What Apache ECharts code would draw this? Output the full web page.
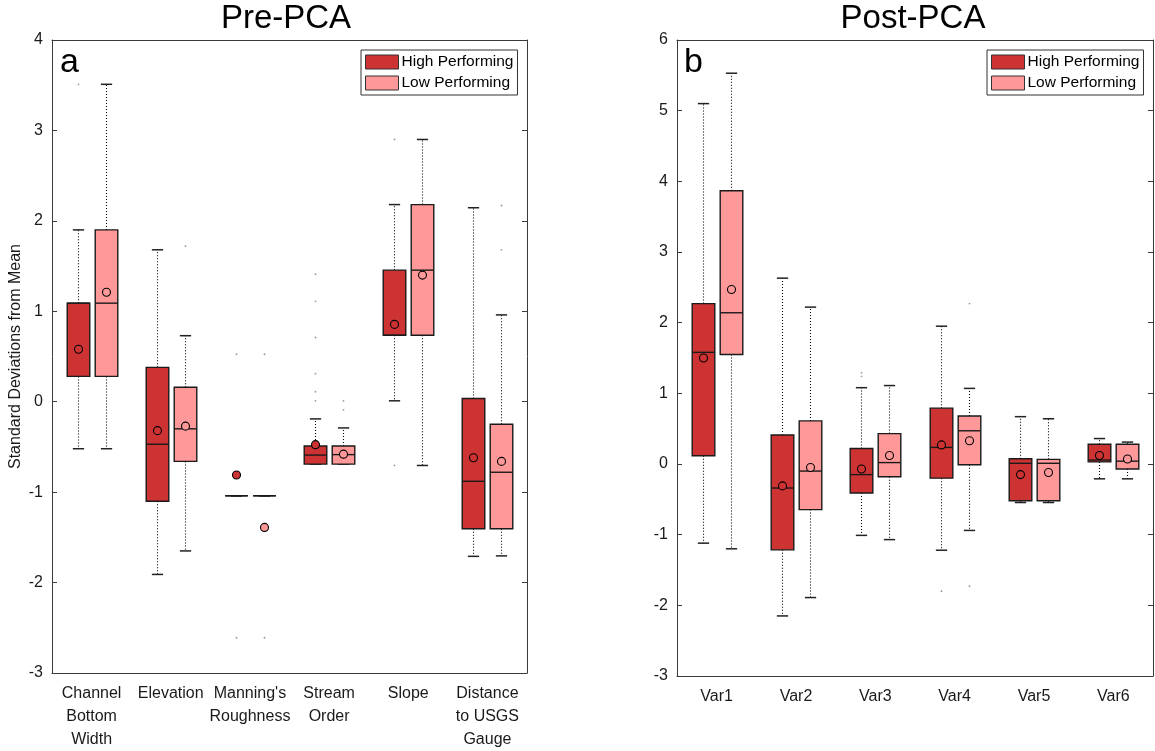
<!DOCTYPE html>
<html>
<head>
<meta charset="utf-8">
<script src="https://cdn.jsdelivr.net/npm/echarts@6/dist/echarts.min.js"></script>
<style>
  html, body { margin: 0; padding: 0; background: #fff; }
  #chart { width: 1155px; height: 751px; }
</style>
</head>
<body>
<div id="chart"></div>
<script>
// ---------- DATA ----------
// each row: [lower whisker, Q1, median, Q3, upper whisker]
const preCategories = ['Channel\nBottom\nWidth', 'Elevation', "Manning's\nRoughness", 'Stream\nOrder', 'Slope', 'Distance\nto USGS\nGauge'];
const preHigh = [
  [-0.52, 0.28, 1.09, 1.09, 1.90],
  [-1.91, -1.10, -0.47, 0.38, 1.68],
  [-1.04, -1.04, -1.04, -1.04, -1.04],
  [-0.69, -0.69, -0.59, -0.49, -0.19],
  [0.01, 0.735, 0.735, 1.455, 2.18],
  [-1.71, -1.405, -0.88, 0.035, 2.145]
];
const preHighMean = [0.58, -0.32, -0.81, -0.475, 0.855, -0.62];
const preLow = [
  [-0.52, 0.28, 1.09, 1.90, 3.51],
  [-1.65, -0.66, -0.30, 0.16, 0.73],
  [-1.04, -1.04, -1.04, -1.04, -1.04],
  [-0.69, -0.69, -0.585, -0.49, -0.29],
  [-0.705, 0.735, 1.455, 2.18, 2.90],
  [-1.705, -1.405, -0.78, -0.25, 0.96]
];
const preLowMean = [1.21, -0.27, -1.39, -0.58, 1.40, -0.66];
const preHighOutliers = [[0, 3.51], [2, 0.525], [2, -2.61], [3, 1.41], [3, 1.11], [3, 0.71], [3, 0.31], [3, 0.11], [3, 0.01], [4, 2.90], [4, -0.705]];
const preLowOutliers = [[1, 1.72], [2, 0.525], [2, -2.61], [3, 0.01], [3, -0.09], [5, 2.17], [5, 1.68]];

const postCategories = ['Var1', 'Var2', 'Var3', 'Var4', 'Var5', 'Var6'];
const postHigh = [
  [-1.12, 0.117, 1.58, 2.27, 5.10],
  [-2.15, -1.215, -0.34, 0.41, 2.63],
  [-1.01, -0.41, -0.15, 0.22, 1.08],
  [-1.22, -0.20, 0.235, 0.79, 1.95],
  [-0.545, -0.52, 0.01, 0.075, 0.67],
  [-0.21, 0.03, 0.056, 0.28, 0.36]
];
const postHighMean = [1.50, -0.31, -0.07, 0.27, -0.15, 0.12];
const postLow = [
  [-1.20, 1.55, 2.14, 3.866, 5.53],
  [-1.89, -0.645, -0.10, 0.61, 2.22],
  [-1.07, -0.18, 0.02, 0.43, 1.11],
  [-0.94, -0.01, 0.47, 0.68, 1.07],
  [-0.545, -0.52, 0.01, 0.066, 0.64],
  [-0.21, -0.07, 0.04, 0.28, 0.31]
];
const postLowMean = [2.47, -0.05, 0.12, 0.33, -0.12, 0.07];
const postHighOutliers = [[2, 1.29], [2, 1.24], [3, -1.80]];
const postLowOutliers = [[3, 2.27], [3, -1.73]];

const seriesNames = ['High Performing', 'Low Performing'];
const preYTicks = { min: -3, max: 4, interval: 1 };
const postYTicks = { min: -3, max: 6, interval: 1 };

// ---------- STYLE ----------
const HIGH_COLOR = '#cd3333';
const LOW_COLOR = '#ff9999';
const FONT = 'Liberation Sans, Arial, Helvetica, sans-serif';
const AXIS_COLOR = '#3a3a3a';
const OFFSET_FRAC = 0.177;
const BOX_FRAC = 0.285;

function toRows(stats, means) {
  return stats.map((s, i) => [i, s[0], s[1], s[2], s[3], s[4], means[i]]);
}

function boxRenderer(side, color) {
  return function (params, api) {
    const cat = api.value(0);
    const band = api.size([1, 0])[0];
    const cx = Math.round(api.coord([cat, 0])[0] + side * band * OFFSET_FRAC) + 0.5;
    const bw = band * BOX_FRAC;
    const cw = bw * 0.5;
    const y = (i) => api.coord([cat, api.value(i)])[1];
    const yWL = y(1), yQ1 = y(2), yMed = y(3), yQ3 = y(4), yWH = y(5), yMean = y(6);
    const dotted = { stroke: '#000', lineWidth: 1.1, lineDash: [1, 2], fill: null };
    const cap = { stroke: '#222', lineWidth: 1.5 };
    const children = [];
    if (yWH < yQ3) children.push({ type: 'line', shape: { x1: cx, y1: yQ3, x2: cx, y2: yWH }, style: dotted });
    if (yWL > yQ1) children.push({ type: 'line', shape: { x1: cx, y1: yQ1, x2: cx, y2: yWL }, style: dotted });
    children.push({ type: 'line', shape: { x1: cx - cw / 2, y1: yWH, x2: cx + cw / 2, y2: yWH }, style: cap });
    children.push({ type: 'line', shape: { x1: cx - cw / 2, y1: yWL, x2: cx + cw / 2, y2: yWL }, style: cap });
    children.push({
      type: 'rect',
      shape: { x: cx - bw / 2, y: yQ3, width: bw, height: Math.max(yQ1 - yQ3, 0) },
      style: { fill: color, stroke: '#1a1a1a', lineWidth: 1.4 }
    });
    children.push({ type: 'line', shape: { x1: cx - bw / 2, y1: yMed, x2: cx + bw / 2, y2: yMed }, style: { stroke: '#1a1a1a', lineWidth: 1.4 } });
    children.push({ type: 'circle', shape: { cx: cx, cy: yMean, r: 4 }, style: { fill: color, stroke: '#000', lineWidth: 1.1 } });
    return { type: 'group', children: children };
  };
}

function outlierRenderer(side) {
  return function (params, api) {
    const cat = api.value(0);
    const band = api.size([1, 0])[0];
    const p = api.coord([cat, api.value(1)]);
    return { type: 'circle', shape: { cx: Math.round(p[0] + side * band * OFFSET_FRAC) + 0.5, cy: p[1], r: 0.9 }, style: { fill: '#9a9a9a' } };
  };
}

const grids = [
  { left: 52, right: 628, top: 40, bottom: 74 },
  { left: 677, right: 2, top: 40, bottom: 75 }
];

function xAxes(cats, gridIndex) {
  return [
    {
      type: 'category', gridIndex: gridIndex, data: cats, position: 'bottom',
      axisLine: { onZero: false, lineStyle: { color: AXIS_COLOR, width: 1 } },
      axisTick: { inside: true, alignWithLabel: true, length: 5, lineStyle: { color: AXIS_COLOR } },
      axisLabel: { interval: 0, color: '#1a1a1a', fontFamily: FONT, fontSize: 16, lineHeight: 23, margin: 9 },
      splitLine: { show: false }
    },
    {
      type: 'category', gridIndex: gridIndex, data: cats, position: 'top',
      axisLine: { onZero: false, lineStyle: { color: AXIS_COLOR, width: 1 } },
      axisTick: { inside: true, alignWithLabel: true, length: 5, lineStyle: { color: AXIS_COLOR } },
      axisLabel: { show: false }, splitLine: { show: false }
    }
  ];
}

function yAxes(ticks, gridIndex, name) {
  return [
    {
      type: 'value', gridIndex: gridIndex, position: 'left', min: ticks.min, max: ticks.max, interval: ticks.interval,
      name: name, nameLocation: 'middle', nameGap: 28, nameRotate: 90,
      nameTextStyle: { fontFamily: FONT, fontSize: 16, color: '#1a1a1a' },
      axisLine: { show: true, onZero: false, lineStyle: { color: AXIS_COLOR, width: 1 } },
      axisTick: { show: true, inside: true, length: 5, lineStyle: { color: AXIS_COLOR } },
      axisLabel: { color: '#1a1a1a', fontFamily: FONT, fontSize: 16, margin: 9 },
      splitLine: { show: false }
    },
    {
      type: 'value', gridIndex: gridIndex, position: 'right', min: ticks.min, max: ticks.max, interval: ticks.interval,
      axisLine: { show: true, onZero: false, lineStyle: { color: AXIS_COLOR, width: 1 } },
      axisTick: { show: true, inside: true, length: 5, lineStyle: { color: AXIS_COLOR } },
      axisLabel: { show: false }, splitLine: { show: false }
    }
  ];
}

function panelSeries(high, highMean, low, lowMean, highOut, lowOut, xIdx, yIdx) {
  return [
    {
      name: seriesNames[0], type: 'custom', xAxisIndex: xIdx, yAxisIndex: yIdx,
      itemStyle: { color: HIGH_COLOR }, renderItem: boxRenderer(-1, HIGH_COLOR),
      encode: { x: 0, y: [1, 2, 3, 4, 5, 6] }, data: toRows(high, highMean), z: 3
    },
    {
      name: seriesNames[1], type: 'custom', xAxisIndex: xIdx, yAxisIndex: yIdx,
      itemStyle: { color: LOW_COLOR }, renderItem: boxRenderer(1, LOW_COLOR),
      encode: { x: 0, y: [1, 2, 3, 4, 5, 6] }, data: toRows(low, lowMean), z: 3
    },
    {
      type: 'custom', xAxisIndex: xIdx, yAxisIndex: yIdx, renderItem: outlierRenderer(-1),
      encode: { x: 0, y: 1 }, data: highOut, z: 2, silent: true
    },
    {
      type: 'custom', xAxisIndex: xIdx, yAxisIndex: yIdx, renderItem: outlierRenderer(1),
      encode: { x: 0, y: 1 }, data: lowOut, z: 2, silent: true
    }
  ];
}

function legendAt(left) {
  return {
    left: left, top: 50, orient: 'vertical', icon: 'rect', data: seriesNames,
    itemWidth: 33, itemHeight: 14, itemGap: 5,
    padding: [4, 4, 4, 4],
    backgroundColor: '#fff', borderColor: '#333', borderWidth: 1, borderRadius: 0,
    itemStyle: { borderColor: '#333', borderWidth: 1 },
    textStyle: { fontFamily: FONT, fontSize: 15.5, color: '#000', padding: [0, 0, 0, -2] },
    selectedMode: false
  };
}

const chart = echarts.init(document.getElementById('chart'), null, { renderer: 'canvas' });
chart.setOption({
  animation: false,
  backgroundColor: '#fff',
  grid: grids,
  xAxis: [...xAxes(preCategories, 0), ...xAxes(postCategories, 1)],
  yAxis: [...yAxes(preYTicks, 0, 'Standard Deviations from Mean'), ...yAxes(postYTicks, 1, '')],
  legend: [legendAt(361), legendAt(987)],
  graphic: [
    { type: 'text', x: 286, y: 19, style: { text: 'Pre-PCA', font: '33px ' + FONT, fill: '#000', align: 'center', verticalAlign: 'middle' } },
    { type: 'text', x: 913, y: 19, style: { text: 'Post-PCA', font: '33px ' + FONT, fill: '#000', align: 'center', verticalAlign: 'middle' } },
    { type: 'text', x: 60, y: 63, style: { text: 'a', font: '34px ' + FONT, fill: '#000', align: 'left', verticalAlign: 'middle' } },
    { type: 'text', x: 684, y: 63, style: { text: 'b', font: '34px ' + FONT, fill: '#000', align: 'left', verticalAlign: 'middle' } }
  ],
  series: [
    ...panelSeries(preHigh, preHighMean, preLow, preLowMean, preHighOutliers, preLowOutliers, 0, 0),
    ...panelSeries(postHigh, postHighMean, postLow, postLowMean, postHighOutliers, postLowOutliers, 2, 2)
  ]
});
</script>
</body>
</html>
